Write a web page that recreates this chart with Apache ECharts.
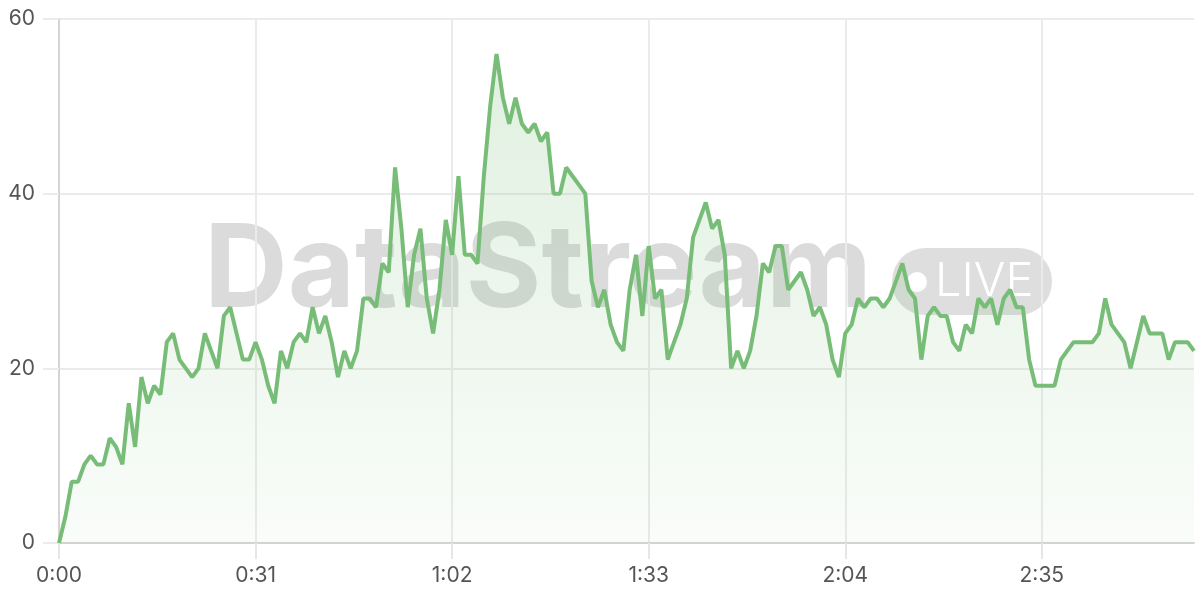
<!DOCTYPE html>
<html>
<head>
<meta charset="utf-8">
<script src="https://cdn.jsdelivr.net/npm/echarts@6/dist/echarts.min.js"></script>
<style>
html,body{margin:0;padding:0;background:#fff;}
#c{width:1200px;height:600px;}
</style>
</head>
<body>
<div id="c"></div>
<script>
// seconds 0..179, one value per second
const values = [
  0, 3, 7, 7, 9, 10, 9, 9, 12, 11,
  9, 16, 11, 19, 16, 18, 17, 23, 24, 21,
  20, 19, 20, 24, 22, 20, 26, 27, 24, 21,
  21, 23, 21, 18, 16, 22, 20, 23, 24, 23,
  27, 24, 26, 23, 19, 22, 20, 22, 28, 28,
  27, 32, 31, 43, 36, 27, 33, 36, 28, 24,
  29, 37, 33, 42, 33, 33, 32, 42, 50, 56,
  51, 48, 51, 48, 47, 48, 46, 47, 40, 40,
  43, 42, 41, 40, 30, 27, 29, 25, 23, 22,
  29, 33, 26, 34, 28, 29, 21, 23, 25, 28,
  35, 37, 39, 36, 37, 33, 20, 22, 20, 22,
  26, 32, 31, 34, 34, 29, 30, 31, 29, 26,
  27, 25, 21, 19, 24, 25, 28, 27, 28, 28,
  27, 28, 30, 32, 29, 28, 21, 26, 27, 26,
  26, 23, 22, 25, 24, 28, 27, 28, 25, 28,
  29, 27, 27, 21, 18, 18, 18, 18, 21, 22,
  23, 23, 23, 23, 24, 28, 25, 24, 23, 20,
  23, 26, 24, 24, 24, 21, 23, 23, 23, 22
];
const categories = values.map((v, i) => Math.floor(i / 60) + ':' + String(i % 60).padStart(2, '0'));
const yTicks = [0, 20, 40, 60];
const watermarkText = 'DataStream';
const badgeText = 'LIVE';

const chart = echarts.init(document.getElementById('c'), null, {renderer: 'canvas'});
const lineColor = '#77bd77';
const labelFont = 'Inter';
chart.setOption({
  animation: false,
  backgroundColor: '#ffffff',
  grid: {left: 59, right: 6, top: 19, bottom: 57, containLabel: false},
  xAxis: {
    type: 'category',
    data: categories,
    boundaryGap: false,
    axisLine: {show: true, lineStyle: {color: '#d4d4d4', width: 2}},
    axisTick: {show: true, interval: 30, length: 16, lineStyle: {color: '#e6e6e6', width: 2}},
    axisLabel: {interval: 30, margin: 22, color: '#555', fontSize: 21, fontFamily: labelFont},
    splitLine: {show: true, interval: 30, lineStyle: {color: '#ebebeb', width: 2}}
  },
  yAxis: {
    type: 'value',
    min: yTicks[0], max: yTicks[yTicks.length - 1], interval: 20,
    axisLine: {show: true, lineStyle: {color: '#d4d4d4', width: 2}},
    axisTick: {show: true, length: 16, lineStyle: {color: '#ebebeb', width: 2}},
    axisLabel: {margin: 24, color: '#555', fontSize: 21, fontFamily: labelFont},
    splitLine: {show: true, lineStyle: {color: '#ebebeb', width: 2}}
  },
  graphic: [
    {type: 'text', z: 0, x: 204, y: 272, style: {text: watermarkText, fontSize: 116, fontWeight: 'bold', fontFamily: 'Inter', fill: 'rgba(0,0,0,0.14)', verticalAlign: 'middle', align: 'left'}},
    {type: 'rect', z: 0, shape: {x: 892, y: 248, width: 160, height: 67, r: 33}, style: {fill: 'rgba(0,0,0,0.13)'}},
    {type: 'circle', z: 0, shape: {cx: 917, cy: 282, r: 10}, style: {fill: '#ffffff'}},
    {type: 'text', z: 0, x: 935, y: 282, style: {text: badgeText, fontSize: 47, fontWeight: 300, fontFamily: 'Inter', fill: '#ffffff', verticalAlign: 'middle', align: 'left'}}
  ],
  series: [{
    type: 'line',
    data: values,
    showSymbol: false,
    symbol: 'none',
    lineStyle: {color: lineColor, width: 4},
    itemStyle: {color: lineColor},
    areaStyle: {
      color: new echarts.graphic.LinearGradient(0, 0, 0, 1, [
        {offset: 0, color: 'rgba(119,189,119,0.32)'},
        {offset: 1, color: 'rgba(119,189,119,0.06)'}
      ])
    }
  }]
});
</script>
</body>
</html>
